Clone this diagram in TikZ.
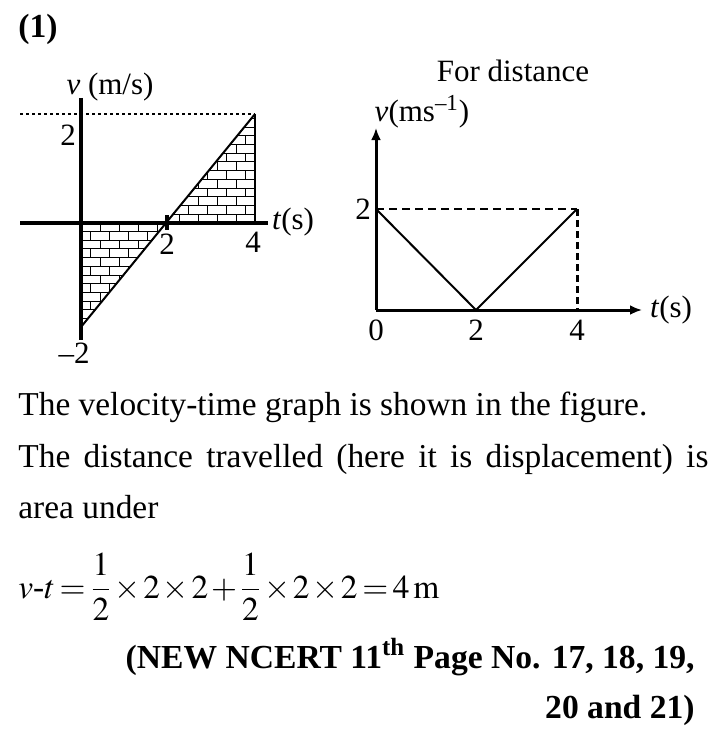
\documentclass[tikz,border=0pt]{standalone}
\usepackage{amsmath}
\usepackage{mathptmx}
\usepackage{fontspec}
\setmainfont{Liberation Serif}
\usepackage{tikz}
\usetikzlibrary{arrows.meta, positioning}

\tikzset{
  lbl/.style={inner sep=0pt, font=\fontsize{15.5}{18}\selectfont},
  txt/.style={inner sep=0pt, font=\fontsize{16.7}{20}\selectfont},
  boldtxt/.style={inner sep=0pt, font=\fontsize{16.8}{20}\selectfont\bfseries},
  brick/.style={line width=0.4pt},
  axtip/.style={-{Latex[length=6pt,width=5pt]}},
}

\begin{document}
\begin{tikzpicture}[x=0.5pt,y=-0.5pt]
\useasboundingbox (0,0) rectangle (727,733);

\node[boldtxt, anchor=base west] (num) at (18,38) {(1)};

% left graph
\coordinate (O1) at (81,222.7);
\coordinate (T2) at (167,222.7);
\coordinate (T4) at (255,222.7);
\coordinate (P4) at (255,114);
\coordinate (M2) at (81,327);
\coordinate (vtop) at (81,98);
\coordinate (vbot) at (81,340);
\coordinate (tleft) at (20,222.7);
\coordinate (tright) at (268,222.7);
\coordinate (dl) at (20,114);

\begin{scope}
\clip (O1) -- (T2) -- (M2) -- cycle;
\foreach \r in {0,...,12} {
  \draw[brick] (60,222.7+\r*8.7) -- (270,222.7+\r*8.7);
  \pgfmathsetmacro\off{mod(\r,2)*9.5}
  \foreach \c in {0,...,10} \draw[brick] (81+\off+\c*19,222.7+\r*8.7) -- ++(0,8.7);
}
\end{scope}
\begin{scope}
\clip (T2) -- (T4) -- (P4) -- cycle;
\foreach \r in {0,...,13} {
  \draw[brick] (60,222.7-\r*8.7) -- (270,222.7-\r*8.7);
  \pgfmathsetmacro\off{mod(\r,2)*9.5}
  \foreach \c in {0,...,10} \draw[brick] (255-\off-\c*19,222.7-\r*8.7) -- ++(0,-8.7);
}
\end{scope}

\draw[line width=2pt] (vtop) -- (vbot);
\draw[line width=2pt] (tleft) -- (tright);
\draw[line width=1pt, dash pattern=on 1.5pt off 1.5pt] (dl) -- (P4);
\draw[line width=1pt] (M2) -- (P4);
\draw[line width=1pt] (P4) -- (T4);
\draw[line width=1.8pt] (167,215) -- (167,230);

\node[lbl, anchor=base] (vlab1) at (110,95) {\textit{v} (m/s)};
\node[lbl] (v2a) at (68,135) {2};
\node[lbl] (t2a) at (167,244) {2};
\node[lbl] (t4a) at (253,242) {4};
\node[lbl] (tlab1) at (293,222) {\textit{t}(s)};
\node[lbl] (vm2) at (74,353) {\textendash2};

% right graph
\coordinate (O2) at (376,310);
\coordinate (A2) at (376,209);
\coordinate (B2) at (476,310);
\coordinate (C2) at (577,209);
\coordinate (D2) at (577,310);
\coordinate (vtip) at (376,128);
\coordinate (ttip) at (642,310);

\draw[line width=1.5pt, axtip] (O2) -- (vtip);
\draw[line width=1.5pt, axtip] (O2) -- (ttip);
\draw[line width=1pt, dash pattern=on 4pt off 2.5pt] (A2) -- (C2);
\draw[line width=1.5pt, dash pattern=on 3.5pt off 2pt] (C2) -- (D2);
\draw[line width=1pt] (A2) -- (B2) -- (C2);

\node[lbl] (title2) at (513,71) {For distance};
\node[lbl] (vlab2) at (422,112) {\textit{v}(ms\textsuperscript{\textendash1})};
\node[lbl] (v2b) at (363,209) {2};
\node[lbl] (t0b) at (376,330) {0};
\node[lbl] (t2b) at (476,330) {2};
\node[lbl] (t4b) at (577,330) {4};
\node[lbl] (tlab2) at (671,310) {\textit{t}(s)};

% text
\node[txt, anchor=base west] (line1) at (18,415) {The velocity-time graph is shown in the figure.};
\node[txt, anchor=base west] (line2) at (18,467) {\makebox[345pt][s]{The distance travelled (here it is displacement) is}};
\node[txt, anchor=base west] (line3) at (18,518) {area under};
\node[txt, anchor=west] (eq) at (18,587) {\medmuskip=1.5mu\thickmuskip=2.5mu$\displaystyle v\text{-}t=\frac{1}{2}\times2\times2+\frac{1}{2}\times2\times2=4\,\mathrm{m}$};
\node[boldtxt, anchor=base east] (ref1) at (695,668) {(NEW NCERT 11\textsuperscript{th} Page No. 17, 18, 19,};
\node[boldtxt, anchor=base east] (ref2) at (695,718) {20 and 21)};
\end{tikzpicture}
\end{document}
